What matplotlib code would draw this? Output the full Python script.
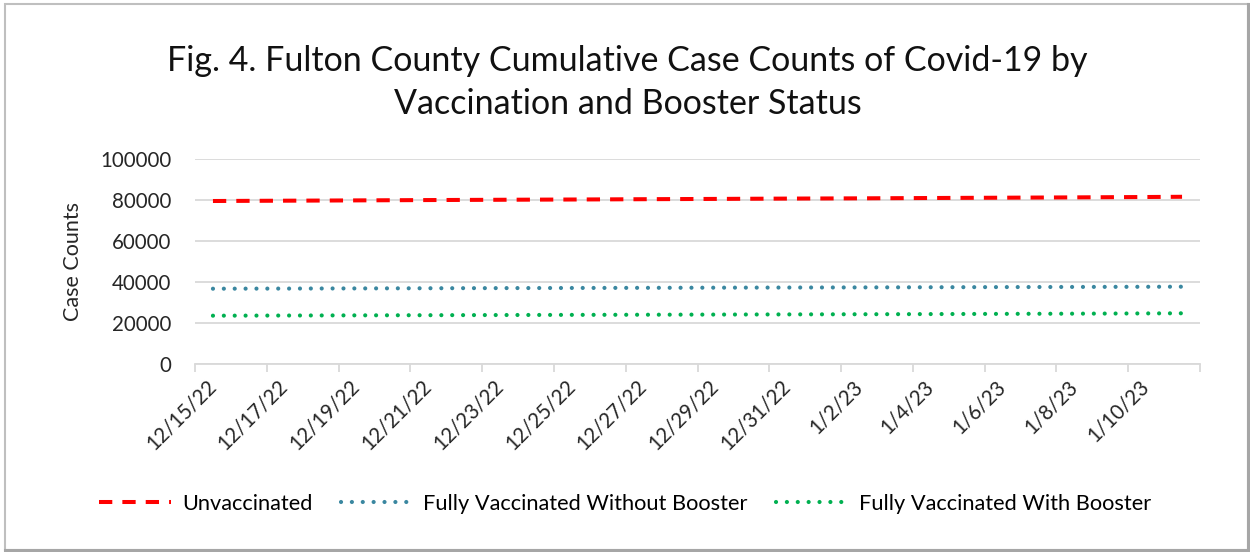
import matplotlib
matplotlib.use("Agg")
import matplotlib.pyplot as plt
from matplotlib.patches import Rectangle
from matplotlib.lines import Line2D

plt.rcParams['font.family'] = ['Lato', 'DejaVu Sans']

# data (cumulative counts per day)
dates = ["12/15/22", "12/16/22", "12/17/22", "12/18/22", "12/19/22", "12/20/22", "12/21/22",
         "12/22/22", "12/23/22", "12/24/22", "12/25/22", "12/26/22", "12/27/22", "12/28/22",
         "12/29/22", "12/30/22", "12/31/22", "1/1/23", "1/2/23", "1/3/23", "1/4/23",
         "1/5/23", "1/6/23", "1/7/23", "1/8/23", "1/9/23", "1/10/23", "1/11/23"]
unvaccinated = [79500, 79580, 79650, 79720, 79800, 79880, 79960, 80030, 80100, 80170,
                80230, 80300, 80380, 80450, 80520, 80600, 80680, 80740, 80800, 80880,
                80960, 81040, 81110, 81190, 81270, 81360, 81450, 81560]
no_booster = [36720, 36760, 36790, 36830, 36860, 36900, 36940, 36980, 37010, 37050,
              37080, 37110, 37150, 37180, 37220, 37260, 37290, 37320, 37350, 37390,
              37430, 37470, 37510, 37540, 37580, 37620, 37660, 37700]
with_booster = [23560, 23600, 23640, 23680, 23720, 23760, 23800, 23840, 23880, 23920,
                23960, 23990, 24030, 24070, 24110, 24150, 24190, 24230, 24260, 24300,
                24350, 24400, 24450, 24500, 24550, 24610, 24670, 24730]

title = "Fig. 4. Fulton County Cumulative Case Counts of Covid-19 by\nVaccination and Booster Status"

fig = plt.figure(figsize=(12.5, 5.52), dpi=100)
ax = fig.add_axes([0.156, 0.3406, 0.804, 0.3714])

x = list(range(len(dates)))
ax.plot(x, unvaccinated, color="#FF0000", lw=2.9, linestyle=(0, (3.3, 2.5)), label="Unvaccinated")
ax.plot(x, no_booster, color="#3A87A0", lw=3.0, linestyle=(0, (0.01, 2.6)),
        dash_capstyle="round", label="Fully Vaccinated Without Booster")
ax.plot(x, with_booster, color="#00B050", lw=3.0, linestyle=(0, (0.01, 2.6)),
        dash_capstyle="round", label="Fully Vaccinated With Booster")

ax.set_xlim(-0.5, len(dates) - 0.5)
ax.set_ylim(0, 100000)
ax.set_yticks(range(0, 100001, 20000))
ax.grid(axis="y", color="#D9D9D9", lw=1.3)
ax.set_axisbelow(True)
for s in ["left", "top", "right"]:
    ax.spines[s].set_visible(False)
ax.spines["bottom"].set_color("#D9D9D9")
ax.spines["bottom"].set_linewidth(1.3)

ax.set_xticks(x[::2])
ax.set_xticklabels(dates[::2], rotation=45, ha="right", va="center", rotation_mode="anchor")
ax.set_xticks([i - 0.5 for i in range(0, len(dates) + 1, 2)], minor=True)
ax.tick_params(axis="x", which="major", length=0, pad=14, labelsize=14.8)
ax.tick_params(axis="x", which="minor", length=6, width=1.3, color="#D9D9D9")
ax.tick_params(axis="y", length=0, pad=17, labelsize=14.8)
for lab in ax.get_xticklabels() + ax.get_yticklabels():
    lab.set_color("#262626")

ax.set_ylabel("Case Counts", fontsize=15.5, color="#262626", labelpad=12)

fig.text(0.502, 0.85, title, ha="center", va="center", fontsize=24.5, color="#111111",
         linespacing=1.42)

fig.legend(loc="center", bbox_to_anchor=(0.5, 0.087), ncol=3, frameon=False,
           fontsize=15.7, handlelength=3.3, columnspacing=1.3, handletextpad=0.5)

# chart area border
fig.patches.append(Rectangle((0.004, 0.004), 0.994, 0.988, transform=fig.transFigure,
                             fill=False, edgecolor="#BFBFBF", lw=1.5))
fig.lines.append(Line2D([0.004, 0.998], [0.004, 0.004], transform=fig.transFigure,
                        color="#A6A6A6", lw=2.2))
fig.lines.append(Line2D([0.998, 0.998], [0.004, 0.992], transform=fig.transFigure,
                        color="#A6A6A6", lw=2.2))

fig.savefig("out.png", dpi=100)
